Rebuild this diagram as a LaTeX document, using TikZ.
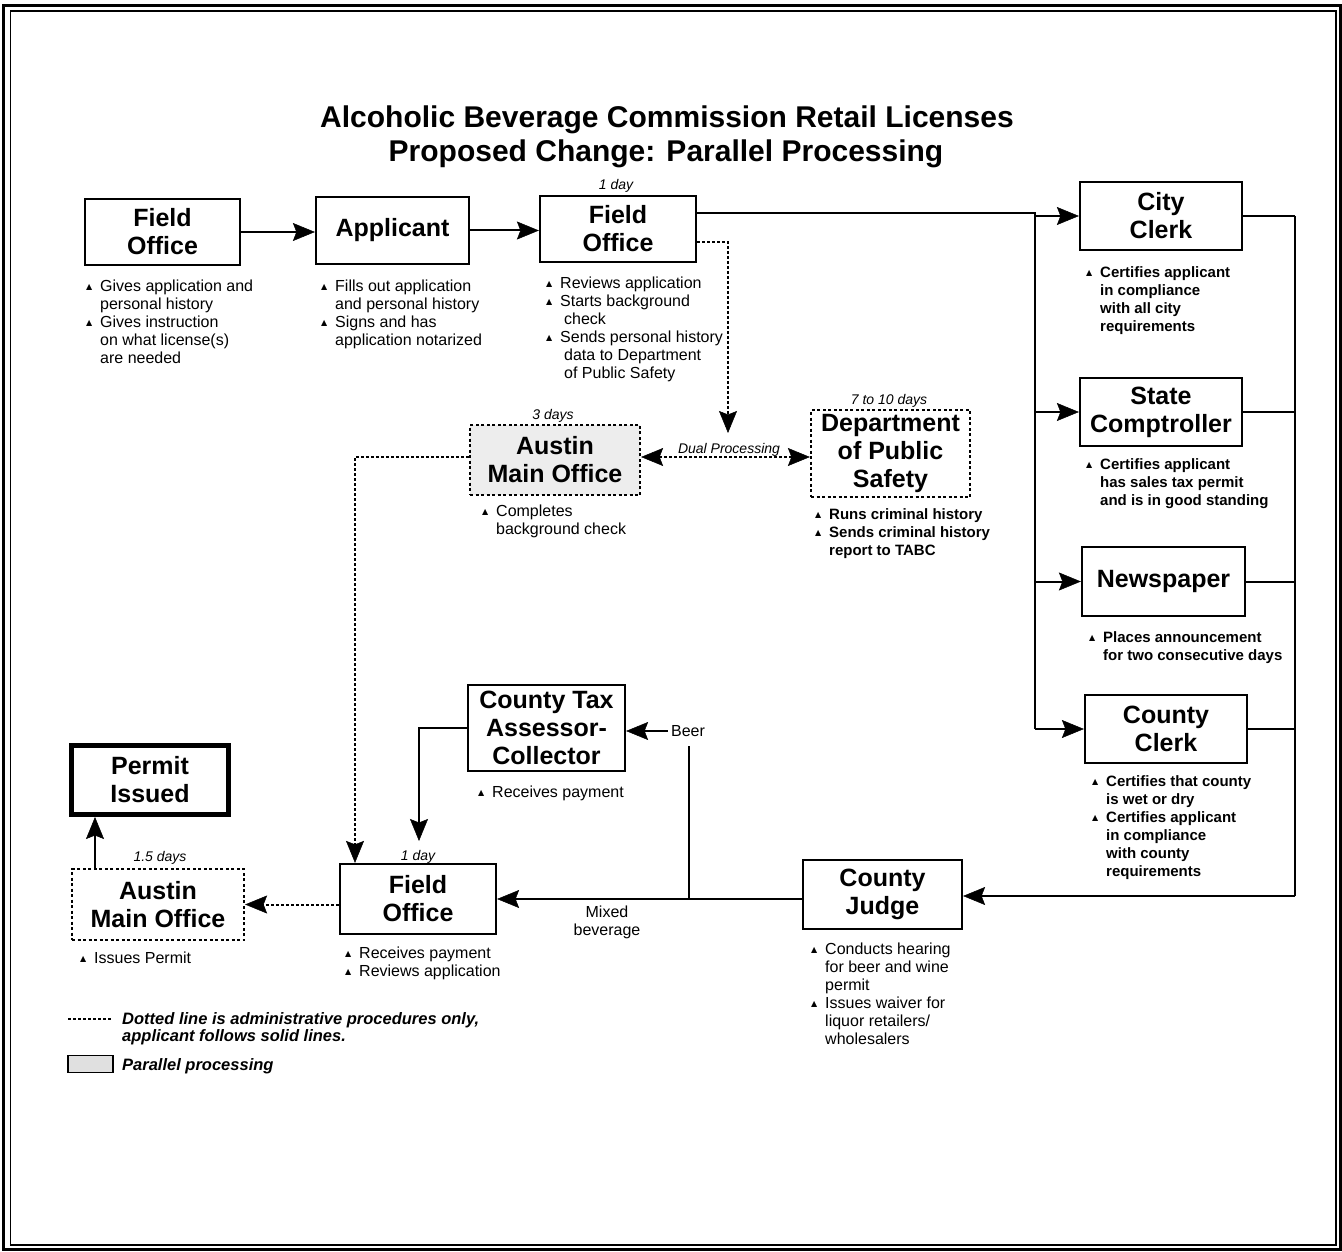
\documentclass[tikz,border=0pt]{standalone}
\usepackage{fontspec}
\setmainfont{Liberation Sans}
\newfontfamily\dejavu{DejaVu Sans}
\usetikzlibrary{arrows.meta,calc}

% type sizes
\newcommand\boxfont{\fontsize{25}{28}\selectfont\bfseries}
\newcommand\notefont{\fontsize{16}{18}\selectfont}
\newcommand\notebold{\fontsize{15}{18}\selectfont\bfseries}
\newcommand\dayfont{\fontsize{14}{16}\selectfont\itshape}
\newcommand\titlefont{\fontsize{30}{34}\selectfont\bfseries}
\newcommand\keyfont{\fontsize{16.5}{17}\selectfont\bfseries\itshape}

% bullet lines: \bi starts a bullet, \ci continues it
\newcommand\tri{\raisebox{1.5pt}{\dejavu\fontsize{8}{8}\selectfont ▲}}
\newcommand\bi[1]{\strut\makebox[14pt][l]{\tri}#1}
\newcommand\ci[1]{\strut\hspace*{14pt}#1}

\tikzset{
  bigtip/.tip={Stealth[length=22pt,width=18pt,inset=3.5pt,fill=black,line width=0.5pt]},
  stepbox/.style={draw, line width=2.2pt, align=center, inner sep=0pt, font=\boxfont},
  admbox/.style={stepbox, dash pattern=on 3pt off 2.5pt},
  note/.style={anchor=north west, align=left, inner sep=0pt, font=\notefont},
  noteb/.style={note, font=\notebold},
  days/.style={anchor=base, inner sep=0pt, font=\dayfont},
  wire/.style={line width=2pt},
  flow/.style={wire, -bigtip},
  adm/.style={line width=2pt, dash pattern=on 2.5pt off 2.5pt},
  admflow/.style={adm, -bigtip},
}

\begin{document}
\begin{tikzpicture}[x=1pt,y=-1pt]
\useasboundingbox (0,0) rectangle (1342,1252);

% page frame
\draw[line width=3pt] (3.5,6) rectangle (1340,1249);
\draw[line width=1.2pt] (10.5,11) rectangle (1336,1245);

% title
\node[anchor=base, inner sep=0pt, font=\titlefont] (t1) at (667,128) {Alcoholic Beverage Commission Retail Licenses};
\node[anchor=base, inner sep=0pt, font=\titlefont] (t2) at (666,162) {Proposed Change: Parallel Processing};

% steps
\node[stepbox, minimum width=155pt, minimum height=66pt] (fo1) at (162.5,232) {Field\\Office};
\node[stepbox, minimum width=153pt, minimum height=67pt] (app) at (392.5,230.5) {Applicant};
\node[stepbox, minimum width=156pt, minimum height=66pt] (fo2) at (618,229) {Field\\Office};
\node[stepbox, minimum width=162pt, minimum height=68pt] (cc) at (1161,216) {City\\Clerk};
\node[stepbox, minimum width=162pt, minimum height=68pt] (sc) at (1161,412) {State\\Comptroller};
\node[stepbox, minimum width=163pt, minimum height=69pt] (news) at (1163.5,581.5) {Newspaper};
\node[stepbox, minimum width=162pt, minimum height=68pt] (coc) at (1166,729) {County\\Clerk};
\node[stepbox, minimum width=159pt, minimum height=69pt] (judge) at (882.5,894.5) {County\\Judge};
\node[admbox, fill=black!7, minimum width=170pt, minimum height=70pt] (aus1) at (555,460) {Austin\\Main Office};
\node[admbox, minimum width=159pt, minimum height=87pt] (dps) at (890.5,453.5) {Department\\of Public\\Safety};
\node[stepbox, minimum width=157pt, minimum height=86pt] (ctac) at (546.5,728) {County Tax\\Assessor-\\Collector};
\node[stepbox, minimum width=156pt, minimum height=70pt] (fo3) at (418,899) {Field\\Office};
\node[admbox, minimum width=172pt, minimum height=71pt] (aus2) at (158,904.5) {Austin\\Main Office};
\node[stepbox, line width=5pt, minimum width=157pt, minimum height=69pt] (permit) at (150,780) {Permit\\Issued};

% durations
\node[days] (d1) at (616,190) {1 day};
\node[days] (d2) at (553,419) {3 days};
\node[days] (d3) at (889,404) {7 to 10 days};
\node[days] (d4) at (418,860) {1 day};
\node[days] (d5) at (160,861) {1.5 days};

% notes under the steps
\node[note] (fo1n) at (86,278.4) {\bi{Gives application and}\\\ci{personal history}\\\bi{Gives instruction}\\\ci{on what license(s)}\\\ci{are needed}};
\node[note] (appn) at (321,278.4) {\bi{Fills out application}\\\ci{and personal history}\\\bi{Signs and has}\\\ci{application notarized}};
\node[note] (fo2n) at (546,275.4) {\bi{Reviews application}\\\bi{Starts background}\\\ci{\hspace{4pt}check}\\\bi{Sends personal history}\\\ci{\hspace{4pt}data to Department}\\\ci{\hspace{4pt}of Public Safety}};
\node[noteb] (ccn) at (1086,264.4) {\bi{Certifies applicant}\\\ci{in compliance}\\\ci{with all city}\\\ci{requirements}};
\node[noteb] (scn) at (1086,456.4) {\bi{Certifies applicant}\\\ci{has sales tax permit}\\\ci{and is in good standing}};
\node[noteb] (newsn) at (1089,629.4) {\bi{Places announcement}\\\ci{for two consecutive days}};
\node[noteb] (cocn) at (1092,773.4) {\bi{Certifies that county}\\\ci{is wet or dry}\\\bi{Certifies applicant}\\\ci{in compliance}\\\ci{with county}\\\ci{requirements}};
\node[note] (aus1n) at (482,503.4) {\bi{Completes}\\\ci{background check}};
\node[noteb] (dpsn) at (815,506.4) {\bi{Runs criminal history}\\\bi{Sends criminal history}\\\ci{report to TABC}};
\node[note] (ctacn) at (478,784.4) {\bi{Receives payment}};
\node[note] (fo3n) at (345,945.4) {\bi{Receives payment}\\\bi{Reviews application}};
\node[note] (judgen) at (811,941.4) {\bi{Conducts hearing}\\\ci{for beer and wine}\\\ci{permit}\\\bi{Issues waiver for}\\\ci{liquor retailers/}\\\ci{wholesalers}};
\node[note] (aus2n) at (80,950.4) {\bi{Issues Permit}};

% applicant's path
\draw[flow] (fo1.east) -- (fo1.east -| app.west);
\draw[flow] (app.east) -- (app.east -| fo2.west);

\coordinate (lbus) at (1035,213);
\draw[wire] (fo2.east |- lbus) -- (lbus) -- (lbus |- coc.west);
\draw[flow] (lbus |- cc.west) -- (cc.west);
\draw[flow] (lbus |- sc.west) -- (sc.west);
\draw[flow] (lbus |- news.west) -- (news.west);
\draw[flow] (lbus |- coc.west) -- (coc.west);

\coordinate (rbus) at (1295,896);
\draw[wire] (cc.east) -- (cc.east -| rbus);
\draw[wire] (sc.east) -- (sc.east -| rbus);
\draw[wire] (news.east) -- (news.east -| rbus);
\draw[wire] (coc.east) -- (coc.east -| rbus);
\draw[wire] (rbus |- cc.east) -- (rbus);
\draw[flow] (rbus) -- (rbus -| judge.east);

\draw[flow] (judge.west |- fo3.east) -- (fo3.east);
\node[align=center, font=\notefont, inner sep=0pt] (mixed) at (607,922) {Mixed\\beverage};

\node[font=\notefont, inner sep=3pt] (beer) at (688,731) {Beer};
\coordinate (beerfoot) at (689,899);
\coordinate (beertop) at (689,746);
\draw[wire] (beerfoot) -- (beertop);
\draw[flow] (beer.west) -- (beer.west -| ctac.east);
\coordinate (payin) at (419,841);
\draw[flow] (ctac.west) -| (payin);

\draw[flow] ([xshift=-63pt]aus2.north) -- ([xshift=-63pt]aus2.north |- permit.south);

% administrative (dotted) routes
\coordinate (dpsdrop) at (728,433);
\draw[admflow] ([yshift=-13pt]fo2.east) -| (dpsdrop);
\coordinate (dual) at (729,457);
\draw[adm, bigtip-bigtip] (dual -| aus1.east) -- (dual -| dps.west);
\node[days] (duallbl) at (729,453) {Dual Processing};
\draw[admflow] ([yshift=3pt]aus1.west) -| ([xshift=-63pt]fo3.north);
\draw[admflow] (fo3.west |- aus2.east) -- (aus2.east);

% key
\coordinate (k1) at (68,1019);
\coordinate (k2) at (112,1019);
\draw[line width=1.5pt, dash pattern=on 2.5pt off 2.5pt] (k1) -- (k2);
\node[anchor=base west, inner sep=0pt, font=\keyfont] (key1) at (122,1024) {Dotted line is administrative procedures only,};
\node[anchor=base west, inner sep=0pt, font=\keyfont] (key2) at (122,1041) {applicant follows solid lines.};
\node[draw, line width=1.5pt, fill=black!12, minimum width=45pt, minimum height=17pt, inner sep=0pt] (keybox) at (90.5,1064) {};
\node[anchor=base west, inner sep=0pt, font=\keyfont] (key3) at (122,1070) {Parallel processing};
\end{tikzpicture}
\end{document}
